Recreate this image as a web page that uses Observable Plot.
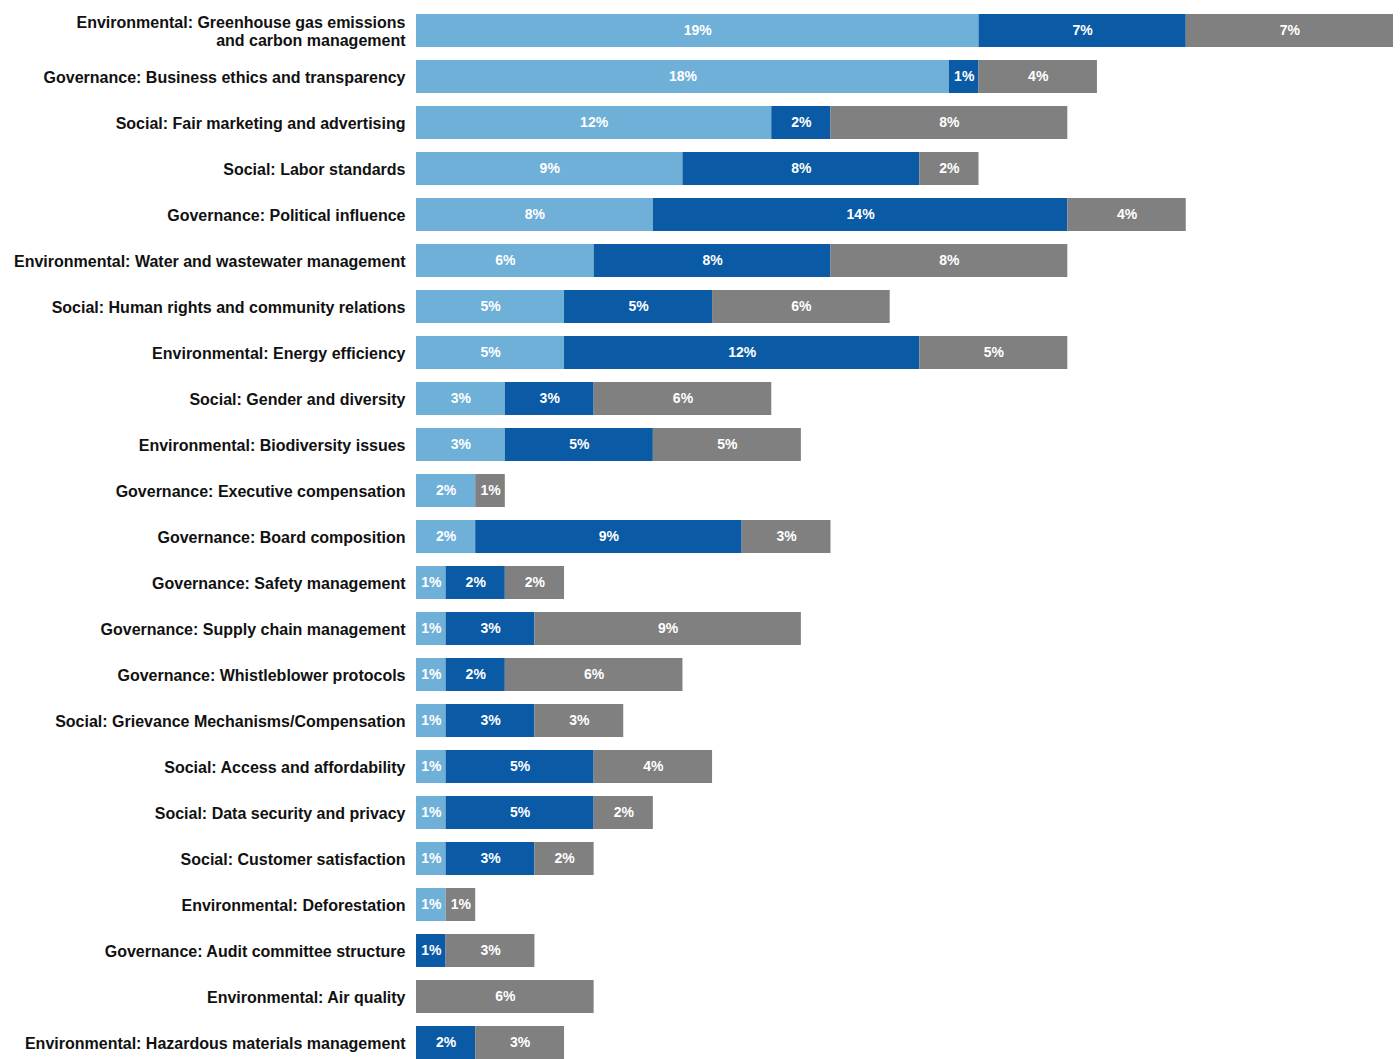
<!DOCTYPE html>
<html>
<head>
<meta charset="utf-8">
<script src="https://cdn.jsdelivr.net/npm/d3@7"></script>
<script src="https://cdn.jsdelivr.net/npm/@observablehq/plot@0.6"></script>
<style>
  html, body { margin: 0; padding: 0; background: #fff; overflow: hidden; }
  #chart svg { display: block; }
</style>
</head>
<body>
<div id="chart"></div>
<script>
const categories = [
  "Environmental: Greenhouse gas emissions and carbon management",
  "Governance: Business ethics and transparency",
  "Social: Fair marketing and advertising",
  "Social: Labor standards",
  "Governance: Political influence",
  "Environmental: Water and wastewater management",
  "Social: Human rights and community relations",
  "Environmental: Energy efficiency",
  "Social: Gender and diversity",
  "Environmental: Biodiversity issues",
  "Governance: Executive compensation",
  "Governance: Board composition",
  "Governance: Safety management",
  "Governance: Supply chain management",
  "Governance: Whistleblower protocols",
  "Social: Grievance Mechanisms/Compensation",
  "Social: Access and affordability",
  "Social: Data security and privacy",
  "Social: Customer satisfaction",
  "Environmental: Deforestation",
  "Governance: Audit committee structure",
  "Environmental: Air quality",
  "Environmental: Hazardous materials management"
];
const seriesNames = ["Light", "Dark", "Gray"];
const seriesColors = ["#6fb0d8", "#0a5aa6", "#808080"];
const lightValues = [19, 18, 12, 9, 8, 6, 5, 5, 3, 3, 2, 2, 1, 1, 1, 1, 1, 1, 1, 1, 0, 0, 0];
const darkValues  = [7, 1, 2, 8, 14, 8, 5, 12, 3, 5, 0, 9, 2, 3, 2, 3, 5, 5, 3, 0, 1, 0, 2];
const grayValues  = [7, 4, 8, 2, 4, 8, 6, 5, 6, 5, 1, 3, 2, 9, 6, 3, 4, 2, 2, 1, 3, 6, 3];

const seriesValues = [lightValues, darkValues, grayValues];
const rows = [];
categories.forEach((c, i) => {
  seriesNames.forEach((s, j) => {
    const v = seriesValues[j][i];
    if (v > 0) rows.push({category: c, series: s, value: v});
  });
});

const wrapLabel = (c) => c === categories[0]
  ? "Environmental: Greenhouse gas emissions\nand carbon management"
  : c;

const chart = Plot.plot({
  width: 1400,
  height: 1061,
  marginLeft: 416,
  marginRight: 7,
  marginTop: 12,
  marginBottom: 0,
  style: {fontFamily: "'Liberation Sans', Arial, sans-serif", background: "#fff"},
  x: {domain: [0, 33], axis: null},
  y: {domain: categories, paddingInner: 0.285, paddingOuter: 0, label: null},
  color: {domain: seriesNames, range: seriesColors},
  marks: [
    Plot.barX(rows, Plot.stackX({
      x: "value", y: "category", fill: "series", order: seriesNames
    })),
    Plot.text(rows, Plot.stackX({
      x: "value", y: "category", z: "series", order: seriesNames,
      text: d => `${d.value}%`,
      fill: "white", fontWeight: "bold", fontSize: 14
    })),
    Plot.axisY({
      tickSize: 0, tickPadding: 11, label: null,
      tickFormat: wrapLabel,
      fontSize: 16, fontWeight: "bold", fill: "#111",
      lineHeight: 1.15
    })
  ]
});
document.getElementById("chart").appendChild(chart);
</script>
</body>
</html>
